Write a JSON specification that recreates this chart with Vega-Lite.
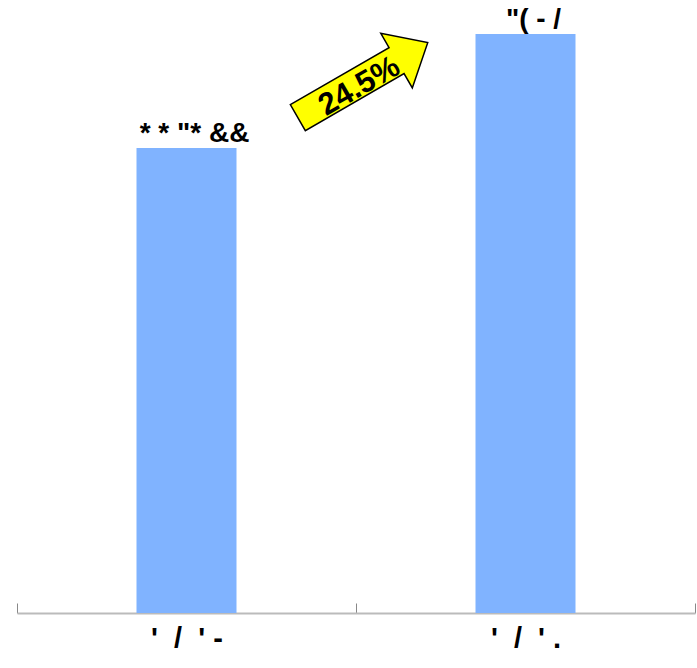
{
  "$schema": "https://vega.github.io/schema/vega-lite/v6.json",
  "autosize": {"type": "none"},
  "padding": {"left": 17, "top": 0, "right": 2, "bottom": 55},
  "width": 678,
  "height": 613,
  "config": {"view": {"stroke": null}, "font": "Liberation Sans"},
  "datasets": {
    "bars": [
      {"cat": "'\u00a0\u00a0/\u00a0\u00a0'\u00a0-", "value": 1000, "label": "*\u00a0*\u00a0\"*\u00a0&&"},
      {"cat": "'\u00a0\u00a0/\u00a0\u00a0'\u00a0.", "value": 1245, "label": "\"(\u00a0-\u00a0/"}
    ],
    "arrow": [
      {"pos": 0.51, "value": 1146, "growth": "24.5%"}
    ]
  },
  "layer": [
    {
      "data": {"name": "bars"},
      "encoding": {
        "x": {
          "field": "cat", "type": "nominal", "sort": null,
          "scale": {"paddingInner": 0, "paddingOuter": 0},
          "axis": {
            "title": null, "labelAngle": 0, "tickBand": "extent",
            "domainColor": "#bbbbbb", "domainWidth": 2,
            "tickColor": "#888888", "tickSize": -10, "tickWidth": 1,
            "labelFont": "Liberation Sans", "labelFontSize": 29, "labelFontWeight": "bold",
            "labelColor": "#000000", "labelPadding": 21
          }
        },
        "y": {
          "field": "value", "type": "quantitative",
          "scale": {"domain": [0, 1318.3], "nice": false},
          "axis": null
        }
      },
      "layer": [
        {
          "mark": {"type": "bar", "color": "#80b3ff", "width": {"band": 0.295}}
        },
        {
          "mark": {"type": "text", "fontSize": 28, "fontWeight": "bold", "baseline": "alphabetic", "dy": -6, "dx": 8, "color": "#000000"},
          "encoding": {"text": {"field": "label"}}
        }
      ]
    },
    {
      "data": {"name": "arrow"},
      "encoding": {
        "x": {"field": "pos", "type": "quantitative", "scale": {"domain": [0, 1]}, "axis": null},
        "y": {"field": "value", "type": "quantitative"}
      },
      "layer": [
        {
          "mark": {
            "type": "point", "filled": true, "color": "#ffff00", "stroke": "#000000", "strokeWidth": 1.5, "opacity": 1,
            "shape": "M -1 -0.2 L 0.52 -0.2 L 0.52 -0.42 L 1 0 L 0.52 0.42 L 0.52 0.2 L -1 0.2 Z",
            "size": 22500, "angle": 330
          }
        },
        {
          "mark": {"type": "text", "fontSize": 31, "fontWeight": "bold", "angle": 330, "dx": -6, "dy": 4, "baseline": "middle", "color": "#000000"},
          "encoding": {"text": {"field": "growth"}}
        }
      ]
    }
  ],
  "resolve": {"scale": {"x": "independent"}, "axis": {"x": "independent"}}
}
